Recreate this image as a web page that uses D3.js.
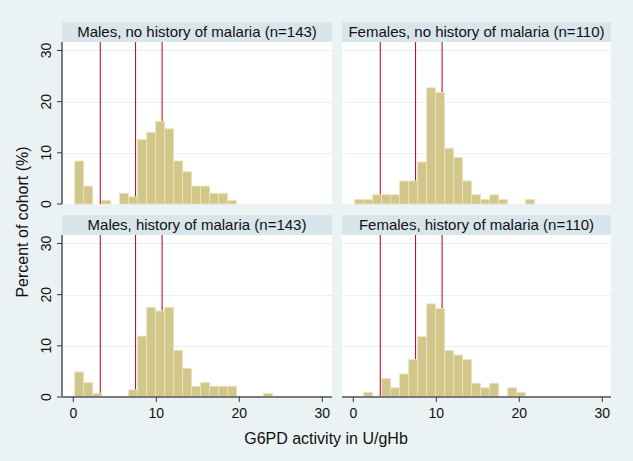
<!DOCTYPE html>
<html>
<head>
<meta charset="utf-8">
<script src="https://cdn.jsdelivr.net/npm/d3@7"></script>
<style>
body { margin: 0; background: #eaf2f3; }
text { font-family: "Liberation Sans", Arial, sans-serif; fill: #111; }
</style>
</head>
<body>
<div id="chart"></div>
<script>
// panel titles
var titles = [
  "Males, no history of malaria (n=143)",
  "Females, no history of malaria (n=110)",
  "Males, history of malaria (n=143)",
  "Females, history of malaria (n=110)"
];

// histogram bins (G6PD activity, U/gHb)
var binStart = 0.17;
var binWidth = 1.084;

// percent of cohort in each bin
var malesNoHist = [8.4, 3.5, 0, 0.7, 0, 2.1, 1.4, 12.6, 14.0, 16.1, 14.7, 8.4, 6.3, 3.5, 3.5, 2.1, 2.1, 0.7];
var femalesNoHist = [0.9, 0.9, 1.8, 1.8, 1.8, 4.5, 4.5, 8.2, 22.7, 21.8, 10.9, 9.1, 4.5, 1.8, 0.9, 1.8, 0.9, 0, 0, 0.9];
var malesHist = [4.9, 2.8, 0.7, 0, 0, 0, 1.4, 11.9, 17.5, 16.8, 17.5, 9.1, 5.6, 2.1, 2.8, 2.1, 2.1, 2.1, 0, 0, 0, 0.7];
var femalesHist = [0, 0.9, 0, 3.6, 1.8, 4.5, 7.3, 11.8, 18.2, 17.3, 9.1, 8.2, 7.3, 2.7, 1.8, 2.7, 0, 1.8, 0.9];

// reference lines
var refLines = [3.25, 7.5, 10.7];

var xTicks = [0, 10, 20, 30];
var yTicks = [0, 10, 20, 30];

var series = [malesNoHist, femalesNoHist, malesHist, femalesHist];

var W = 633, H = 461;
var pw = 270, ph = 162, stripH = 20;
var colX = [62, 342];
var rowY = [42, 235];

var svg = d3.select("#chart").append("svg")
    .attr("width", W).attr("height", H);

svg.append("rect").attr("width", W).attr("height", H).attr("fill", "#eaf2f3");

var x = d3.scaleLinear().domain([-1.36, 31.17]).range([0, pw]);
var y = d3.scaleLinear().domain([0, 31.66]).range([ph, 0]);

series.forEach(function(vals, k) {
  var col = k % 2, row = Math.floor(k / 2);
  var g = svg.append("g").attr("transform", "translate(" + colX[col] + "," + rowY[row] + ")");
  var w = col == 1 ? pw - 1 : pw;

  // title strip
  g.append("rect").attr("x", 0).attr("y", -stripH).attr("width", w).attr("height", stripH)
    .attr("fill", "#d8e5eb");
  g.append("text").attr("x", w / 2).attr("y", -5).attr("text-anchor", "middle")
    .style("font-size", "15px").text(titles[k]);

  // plot area
  g.append("rect").attr("width", w).attr("height", ph).attr("fill", "#fff");

  g.selectAll(".grid").data(yTicks.slice(1)).enter().append("line")
    .attr("x1", 0).attr("x2", w)
    .attr("y1", function(d) { return Math.round(y(d)) + 0.5; })
    .attr("y2", function(d) { return Math.round(y(d)) + 0.5; })
    .attr("stroke", "#e9f1f2").attr("stroke-width", 1);

  // red reference lines drawn behind the bars
  g.selectAll(".ref").data(refLines).enter().append("line")
    .attr("x1", function(d) { return x(d); }).attr("x2", function(d) { return x(d); })
    .attr("y1", 0).attr("y2", ph)
    .attr("stroke", "#c8102e").attr("stroke-width", 1.1);

  g.selectAll(".bar").data(vals).enter().append("rect")
    .attr("x", function(d, i) { return x(binStart + i * binWidth); })
    .attr("width", x(binWidth) - x(0))
    .attr("y", function(d) { return y(d); })
    .attr("height", function(d) { return ph - y(d); })
    .attr("fill", function(d) { return d > 0 ? "#d2c78b" : "none"; })
    .attr("stroke", function(d) { return d > 0 ? "#ebe4bd" : "none"; })
    .attr("stroke-width", 0.8);

  // y axis on left column
  if (col == 0) {
    var ya = g.append("g");
    ya.append("line").attr("x1", 0).attr("x2", 0).attr("y1", 0).attr("y2", ph)
      .attr("stroke", "#7a7a7a").attr("stroke-width", 2);
    ya.selectAll(".yt").data(yTicks).enter().append("line")
      .attr("x1", -5).attr("x2", 0)
      .attr("y1", function(d) { return y(d); }).attr("y2", function(d) { return y(d); })
      .attr("stroke", "#333").attr("stroke-width", 1);
    ya.selectAll(".yl").data(yTicks).enter().append("text")
      .attr("transform", function(d) { return "translate(-11," + y(d) + ") rotate(-90)"; })
      .attr("text-anchor", "middle")
      .style("font-size", "14px")
      .text(function(d) { return d; });
  }

  // x axis on bottom row
  if (row == 1) {
    var xa = g.append("g").attr("transform", "translate(0," + ph + ")");
    xa.append("line").attr("x1", 0).attr("x2", w).attr("y1", 0).attr("y2", 0)
      .attr("stroke", "#7a7a7a").attr("stroke-width", 2);
    xa.selectAll(".xt").data(xTicks).enter().append("line")
      .attr("x1", function(d) { return x(d); }).attr("x2", function(d) { return x(d); })
      .attr("y1", 0).attr("y2", 5)
      .attr("stroke", "#333").attr("stroke-width", 1);
    xa.selectAll(".xl").data(xTicks).enter().append("text")
      .attr("x", function(d) { return x(d); }).attr("y", 21)
      .attr("text-anchor", "middle")
      .style("font-size", "14px")
      .text(function(d) { return d; });
  }
});

svg.append("text").attr("x", 326).attr("y", 444).attr("text-anchor", "middle")
  .style("font-size", "16px").text("G6PD activity in U/gHb");

svg.append("text").attr("transform", "translate(28,222) rotate(-90)")
  .attr("text-anchor", "middle")
  .style("font-size", "16px").text("Percent of cohort (%)");
</script>
</body>
</html>
